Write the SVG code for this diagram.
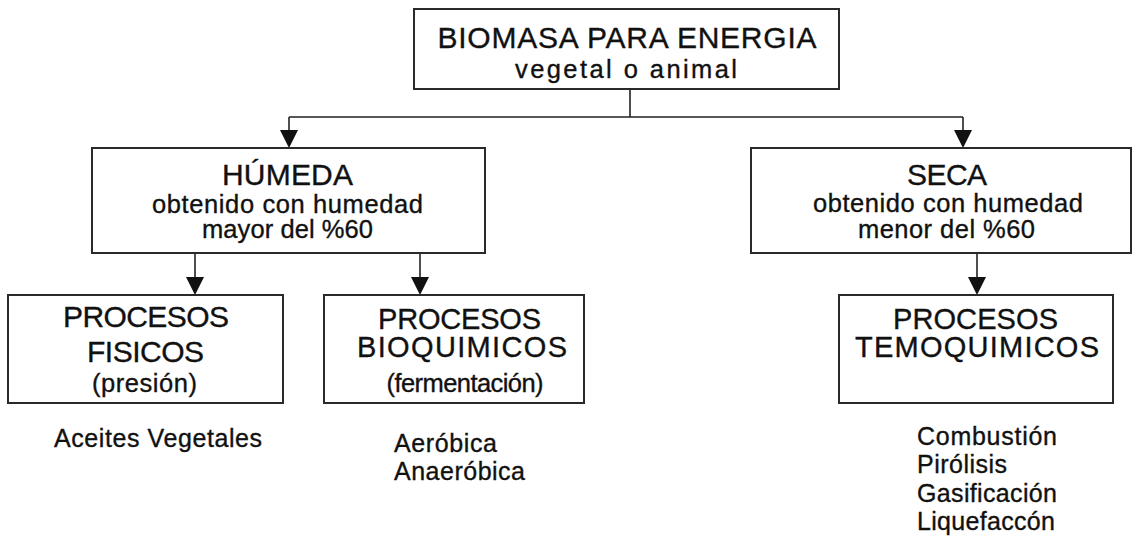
<svg xmlns="http://www.w3.org/2000/svg" width="1141" height="538" viewBox="0 0 1141 538">
<style>
  .box { fill: #fff; stroke: #2a2a2a; stroke-width: 2; }
  .t { font-family: "Liberation Sans", Arial, sans-serif; fill: #111; stroke: #111; stroke-width: 0.35; }
  .h { font-size: 30px; text-anchor: middle; }
  .h2 { font-size: 29px; text-anchor: middle; }
  .s { font-size: 25.5px; text-anchor: middle; }
  .l { font-size: 25px; }
  .con { fill: none; stroke: #222; stroke-width: 1.6; }
</style>
<defs>
  <marker id="arr" markerUnits="userSpaceOnUse" markerWidth="18" markerHeight="18" refX="16" refY="9" orient="auto" viewBox="0 0 18 18">
    <path d="M0,0 L18,9 L0,18 z" fill="#111"/>
  </marker>
</defs>
<rect width="1141" height="538" fill="#fff"/>

<g id="connectors">
  <path class="con" d="M630 89 V117 M289 117 H963"/>
  <path class="con" d="M289 117 V146" marker-end="url(#arr)"/>
  <path class="con" d="M963 117 V146" marker-end="url(#arr)"/>
  <path class="con" d="M195 253 V293" marker-end="url(#arr)"/>
  <path class="con" d="M420 253 V293" marker-end="url(#arr)"/>
  <path class="con" d="M977 253 V293" marker-end="url(#arr)"/>
</g>

<g id="biomasa">
  <rect class="box" x="414" y="9" width="425" height="80"/>
  <text class="t h" x="627" y="48" textLength="379">BIOMASA PARA ENERGIA</text>
  <text class="t s" x="626" y="78" textLength="222">vegetal o animal</text>
</g>

<g id="humeda">
  <rect class="box" x="92" y="148" width="393" height="105"/>
  <text class="t h" x="287.5" y="185" textLength="131">HÚMEDA</text>
  <text class="t s" x="287.5" y="213" textLength="271">obtenido con humedad</text>
  <text class="t s" x="287.5" y="238" textLength="171">mayor del %60</text>
</g>

<g id="seca">
  <rect class="box" x="751" y="148" width="380" height="105"/>
  <text class="t h" x="947" y="185" textLength="80">SECA</text>
  <text class="t s" x="948" y="212" textLength="270">obtenido con humedad</text>
  <text class="t s" x="946.5" y="238" textLength="177">menor del %60</text>
</g>

<g id="fisicos">
  <rect class="box" x="8" y="295" width="275" height="108"/>
  <text class="t h" x="146" y="327" textLength="166">PROCESOS</text>
  <text class="t h" x="145.5" y="362" textLength="117">FISICOS</text>
  <text class="t s" x="144.5" y="392" textLength="105">(presión)</text>
</g>

<g id="bioquimicos">
  <rect class="box" x="324" y="295" width="260" height="108"/>
  <text class="t h2" x="459.5" y="329" textLength="163">PROCESOS</text>
  <text class="t h2" x="462" y="357" textLength="210">BIOQUIMICOS</text>
  <text class="t s" x="465" y="392" textLength="157">(fermentación)</text>
</g>

<g id="termoquimicos">
  <rect class="box" x="839" y="295" width="274" height="108"/>
  <text class="t h2" x="975.5" y="329" textLength="165">PROCESOS</text>
  <text class="t h2" x="977" y="357" textLength="244">TEMOQUIMICOS</text>
</g>

<g id="lista-fisicos">
  <text class="t l" x="54" y="447" textLength="208">Aceites Vegetales</text>
</g>
<g id="lista-bioquimicos">
  <text class="t l" x="394" y="452" textLength="103">Aeróbica</text>
  <text class="t l" x="394" y="480" textLength="131">Anaeróbica</text>
</g>
<g id="lista-termoquimicos">
  <text class="t l" x="917" y="445" textLength="140">Combustión</text>
  <text class="t l" x="917" y="473" textLength="90">Pirólisis</text>
  <text class="t l" x="917" y="502" textLength="140">Gasificación</text>
  <text class="t l" x="917" y="530" textLength="138">Liquefaccón</text>
</g>
</svg>
